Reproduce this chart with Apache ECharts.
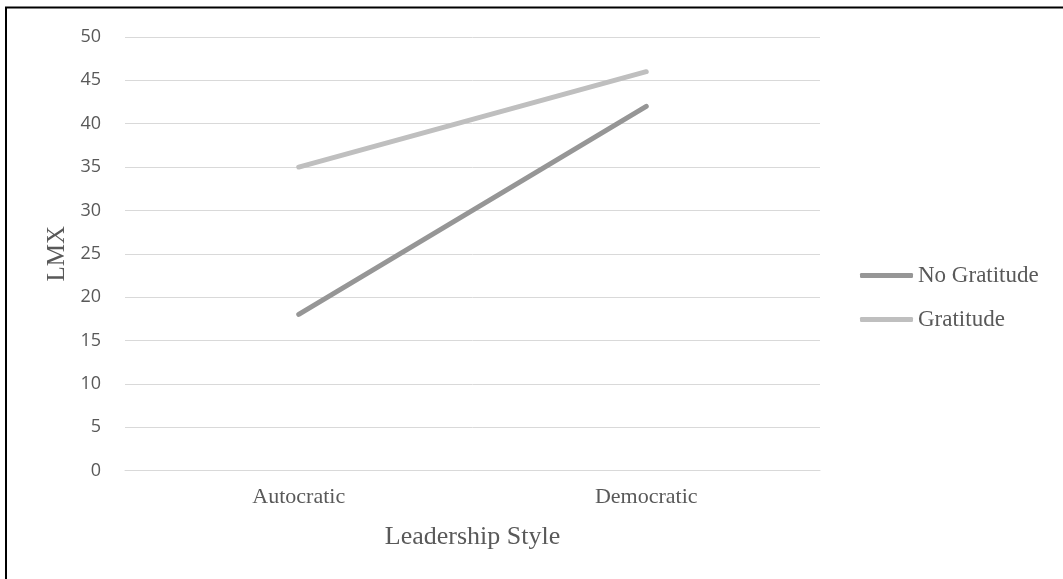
<!DOCTYPE html>
<html>
<head>
<meta charset="utf-8">
<script src="https://cdn.jsdelivr.net/npm/echarts@6/dist/echarts.min.js"></script>
<style>
  html, body { margin: 0; padding: 0; background: #fff; }
  #chart { width: 1063px; height: 579px; }
</style>
</head>
<body>
<div id="chart"></div>
<script>
// data
const categories = ['Autocratic', 'Democratic']
const noGratitude = [18, 42]
const gratitude = [35, 46]
const seriesNames = ['No Gratitude', 'Gratitude']

const chart = echarts.init(document.getElementById('chart'))
const serif = '"Liberation Serif", "DejaVu Serif", serif'
const sans = '"Open Sans", "Noto Sans", sans-serif'

chart.setOption({
  animation: false,
  color: ['#969696', '#bfbfbf'],
  graphic: [{
    type: 'rect',
    shape: { x: 6, y: 7.5, width: 1200, height: 700 },
    style: { fill: 'none', stroke: '#000', lineWidth: 2 },
    silent: true
  }],
  grid: { left: 125, right: 243, top: 37, bottom: 108.5 },
  legend: {
    orient: 'vertical',
    left: 855,
    top: 259,
    itemWidth: 53,
    itemHeight: 5,
    itemGap: 21,
    icon: 'roundRect',
    textStyle: { fontFamily: serif, fontSize: 23, color: '#595959' },
    data: seriesNames
  },
  xAxis: {
    type: 'category',
    data: categories,
    name: 'Leadership Style',
    nameLocation: 'middle',
    nameGap: 54,
    nameTextStyle: { fontFamily: serif, fontSize: 26, color: '#595959' },
    axisLine: { lineStyle: { color: '#d9d9d9', width: 1 } },
    axisTick: { show: false },
    axisLabel: { fontFamily: serif, fontSize: 22, color: '#595959', margin: 16 }
  },
  yAxis: {
    type: 'value',
    min: 0,
    max: 50,
    interval: 5,
    name: 'LMX',
    nameLocation: 'middle',
    nameGap: 55,
    nameTextStyle: { fontFamily: serif, fontSize: 25, color: '#595959' },
    axisLine: { show: false },
    axisTick: { show: false },
    axisLabel: { fontFamily: sans, fontSize: 18, color: '#595959', margin: 24 },
    splitLine: { lineStyle: { color: '#d9d9d9', width: 1 } }
  },
  series: [
    {
      name: seriesNames[0],
      type: 'line',
      data: noGratitude,
      symbol: 'none',
      lineStyle: { width: 5, cap: 'round' }
    },
    {
      name: seriesNames[1],
      type: 'line',
      data: gratitude,
      symbol: 'none',
      lineStyle: { width: 5, cap: 'round' }
    }
  ]
})
</script>
</body>
</html>
